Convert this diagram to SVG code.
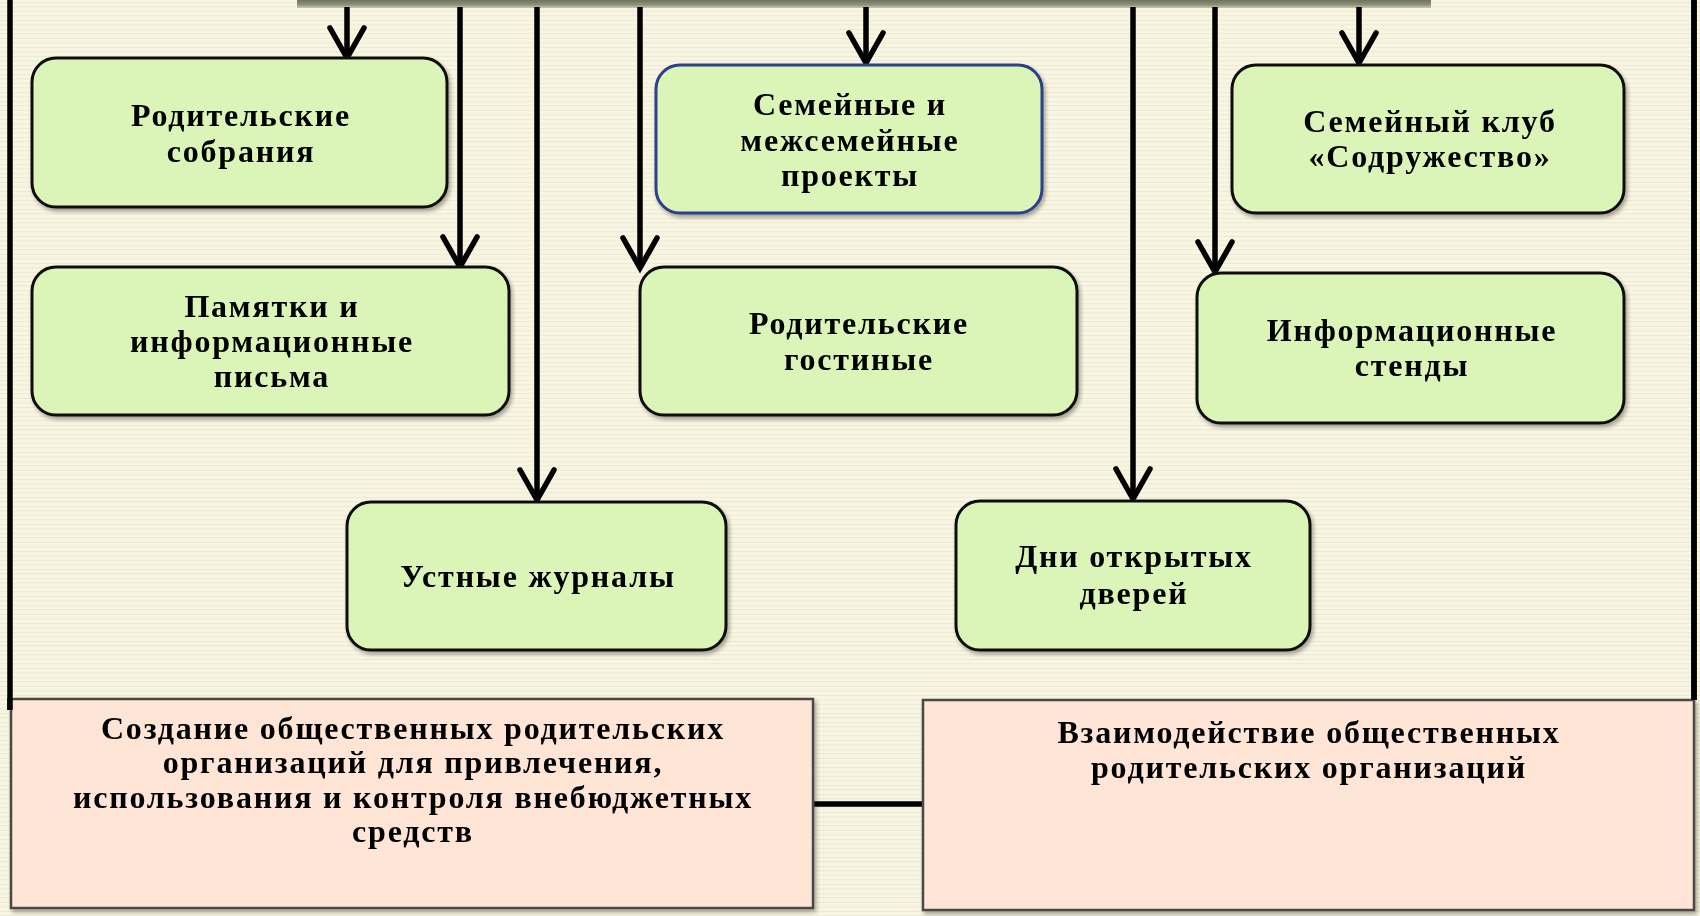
<svg xmlns="http://www.w3.org/2000/svg" width="1700" height="916" viewBox="0 0 1700 916">
<defs>
<pattern id="stripes" width="8" height="9" patternUnits="userSpaceOnUse">
<rect width="8" height="9" fill="#f8f6e2"/>
<rect y="2" width="8" height="1" fill="#ecead2"/>
<rect y="6" width="8" height="1.5" fill="#f0eed8"/>
</pattern>
<linearGradient id="bar" x1="0" y1="0" x2="0" y2="1">
<stop offset="0" stop-color="#6e735c"/>
<stop offset="0.6" stop-color="#8e927c"/>
<stop offset="1" stop-color="#c9cab2"/>
</linearGradient>
<marker id="arr" markerUnits="userSpaceOnUse" orient="auto" markerWidth="40" markerHeight="44" viewBox="-36 -22 40 44" refX="0" refY="0" overflow="visible">
<path d="M-30,-17 L0,0 L-30,17" fill="none" stroke="#000" stroke-width="5.5" stroke-linecap="round" stroke-linejoin="miter"/>
</marker>
<filter id="sh" x="-5%" y="-5%" width="110%" height="115%">
<feGaussianBlur in="SourceAlpha" stdDeviation="2"/>
<feOffset dx="2" dy="3" result="b"/>
<feComponentTransfer><feFuncA type="linear" slope="0.35"/></feComponentTransfer>
<feMerge><feMergeNode/><feMergeNode in="SourceGraphic"/></feMerge>
</filter>
</defs>
<style>
.g{fill:#dbf5b8;stroke:#111;stroke-width:3}
.gb{fill:#dbf5b8;stroke:#2e3f8c;stroke-width:3}
.p{fill:#fee5d5;stroke:#4a4a4a;stroke-width:2.5}
.t{font-family:"Liberation Serif","Times New Roman",serif;font-weight:bold;font-size:32px;letter-spacing:1.8px;fill:#000;text-anchor:middle}
.c{fill:none;stroke:#000;stroke-width:5.5}
</style>
<rect width="1700" height="916" fill="url(#stripes)"/>
<rect x="297" y="0" width="1134" height="8" fill="url(#bar)"/>

<g id="connectors">
<line class="c" x1="10" y1="0" x2="10" y2="710"/>
<line class="c" x1="1694" y1="0" x2="1694" y2="700"/>
<line class="c" x1="347" y1="7" x2="347" y2="58" marker-end="url(#arr)"/>
<line class="c" x1="460" y1="7" x2="460" y2="267" marker-end="url(#arr)"/>
<line class="c" x1="537" y1="7" x2="537" y2="500" marker-end="url(#arr)"/>
<line class="c" x1="640" y1="7" x2="640" y2="268" marker-end="url(#arr)"/>
<line class="c" x1="866" y1="7" x2="866" y2="63" marker-end="url(#arr)"/>
<line class="c" x1="1133" y1="7" x2="1133" y2="499" marker-end="url(#arr)"/>
<line class="c" x1="1215" y1="7" x2="1215" y2="272" marker-end="url(#arr)"/>
<line class="c" x1="1359" y1="7" x2="1359" y2="63" marker-end="url(#arr)"/>
<line class="c" x1="813" y1="804" x2="923" y2="804"/>
</g>

<g id="n1" filter="url(#sh)">
<rect class="g" x="32" y="58" width="415" height="149" rx="24"/>
<text class="t" x="241" y="126">Родительские</text>
<text class="t" x="241" y="162">собрания</text>
</g>
<g id="n2" filter="url(#sh)">
<rect class="g" x="32" y="267" width="477" height="148" rx="24"/>
<text class="t" x="272" y="317">Памятки и</text>
<text class="t" x="272" y="352">информационные</text>
<text class="t" x="272" y="387">письма</text>
</g>
<g id="n3" filter="url(#sh)">
<rect class="gb" x="656" y="65" width="386" height="148" rx="24"/>
<text class="t" x="850" y="115">Семейные и</text>
<text class="t" x="850" y="151">межсемейные</text>
<text class="t" x="850" y="186">проекты</text>
</g>
<g id="n4" filter="url(#sh)">
<rect class="g" x="640" y="267" width="437" height="148" rx="24"/>
<text class="t" x="859" y="334">Родительские</text>
<text class="t" x="859" y="370">гостиные</text>
</g>
<g id="n5" filter="url(#sh)">
<rect class="g" x="1232" y="65" width="392" height="148" rx="24"/>
<text class="t" x="1430" y="132">Семейный клуб</text>
<text class="t" x="1430" y="167">«Содружество»</text>
</g>
<g id="n6" filter="url(#sh)">
<rect class="g" x="1197" y="273" width="427" height="150" rx="24"/>
<text class="t" x="1412" y="341">Информационные</text>
<text class="t" x="1412" y="376">стенды</text>
</g>
<g id="n7" filter="url(#sh)">
<rect class="g" x="347" y="502" width="379" height="148" rx="24"/>
<text class="t" x="538" y="587">Устные журналы</text>
</g>
<g id="n8" filter="url(#sh)">
<rect class="g" x="956" y="501" width="354" height="149" rx="24"/>
<text class="t" x="1134" y="567">Дни открытых</text>
<text class="t" x="1134" y="604">дверей</text>
</g>
<g id="n9" filter="url(#sh)">
<rect class="p" x="11" y="699" width="802" height="209"/>
<text class="t" x="413" y="739">Создание общественных родительских</text>
<text class="t" x="413" y="773">организаций для привлечения,</text>
<text class="t" x="413" y="808">использования и контроля внебюджетных</text>
<text class="t" x="413" y="842">средств</text>
</g>
<g id="n10" filter="url(#sh)">
<rect class="p" x="923" y="700" width="771" height="210"/>
<text class="t" x="1309" y="743">Взаимодействие общественных</text>
<text class="t" x="1309" y="778">родительских организаций</text>
</g>
<line class="c" x1="10" y1="698" x2="10" y2="710"/>
<line class="c" x1="1694" y1="0" x2="1694" y2="700"/>
</svg>
